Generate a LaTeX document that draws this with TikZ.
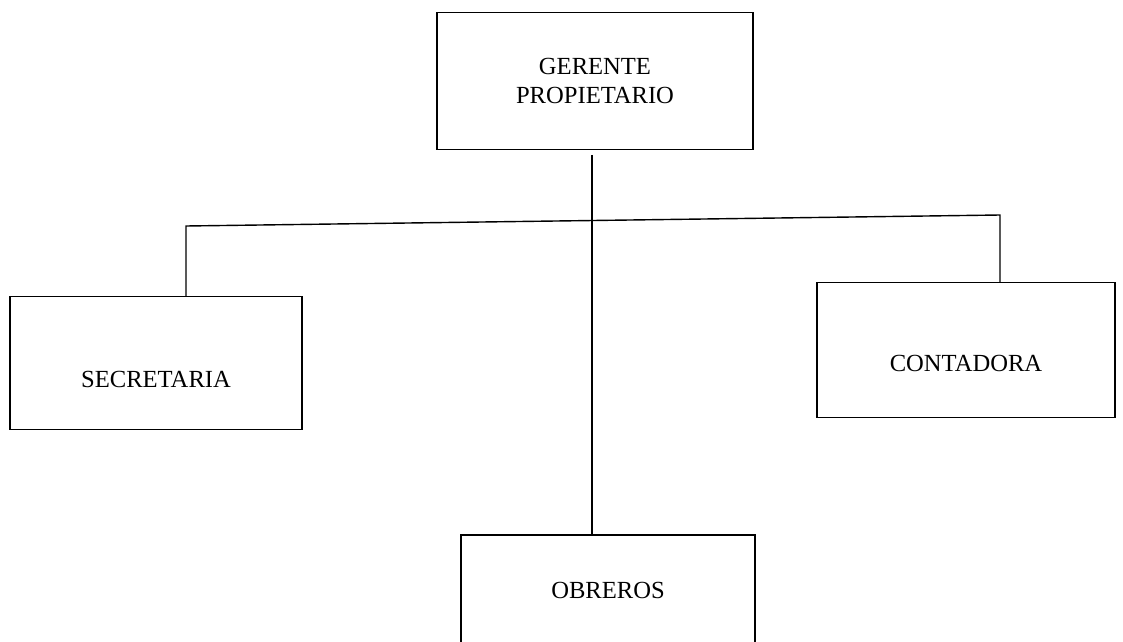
\documentclass[tikz,border=0pt]{standalone}
\usepackage{fontspec}
\setmainfont{Liberation Serif}
\usepackage{tikz}
\usetikzlibrary{positioning}

\begin{document}
\begin{tikzpicture}[
  x=0.02cm, y=-0.02cm,
  every node/.style={font=\fontsize{14}{17}\selectfont},
  orgbox/.style={draw, line width=0.8pt, align=center, inner sep=0pt},
  link/.style={line width=0.8pt}
]
\useasboundingbox (0,0) rectangle (1123,642);
\clip (0,0) rectangle (1123,642);

\node[orgbox, minimum width=6.32cm, minimum height=2.74cm] (ger) at (595,81)
  {GERENTE\\PROPIETARIO};
\node[orgbox, minimum width=5.84cm, minimum height=2.66cm,
  text height=1.0cm] (sec) at (156,363) {SECRETARIA};
\node[orgbox, minimum width=5.96cm, minimum height=2.7cm,
  text height=0.87cm] (cont) at (966,350) {CONTADORA};
\node[orgbox, minimum width=5.88cm, minimum height=2.2cm] (obr) at (608,590)
  {OBREROS};

% bus
\coordinate (busL) at (186,226);
\coordinate (busR) at (1000,215);
\coordinate (trunk) at (592,155);

\draw[link] (busL |- sec.north) -- (busL) -- (busR) -- (busR |- cont.north);
\draw[link] (trunk) -- (trunk |- obr.north);

\end{tikzpicture}
\end{document}
